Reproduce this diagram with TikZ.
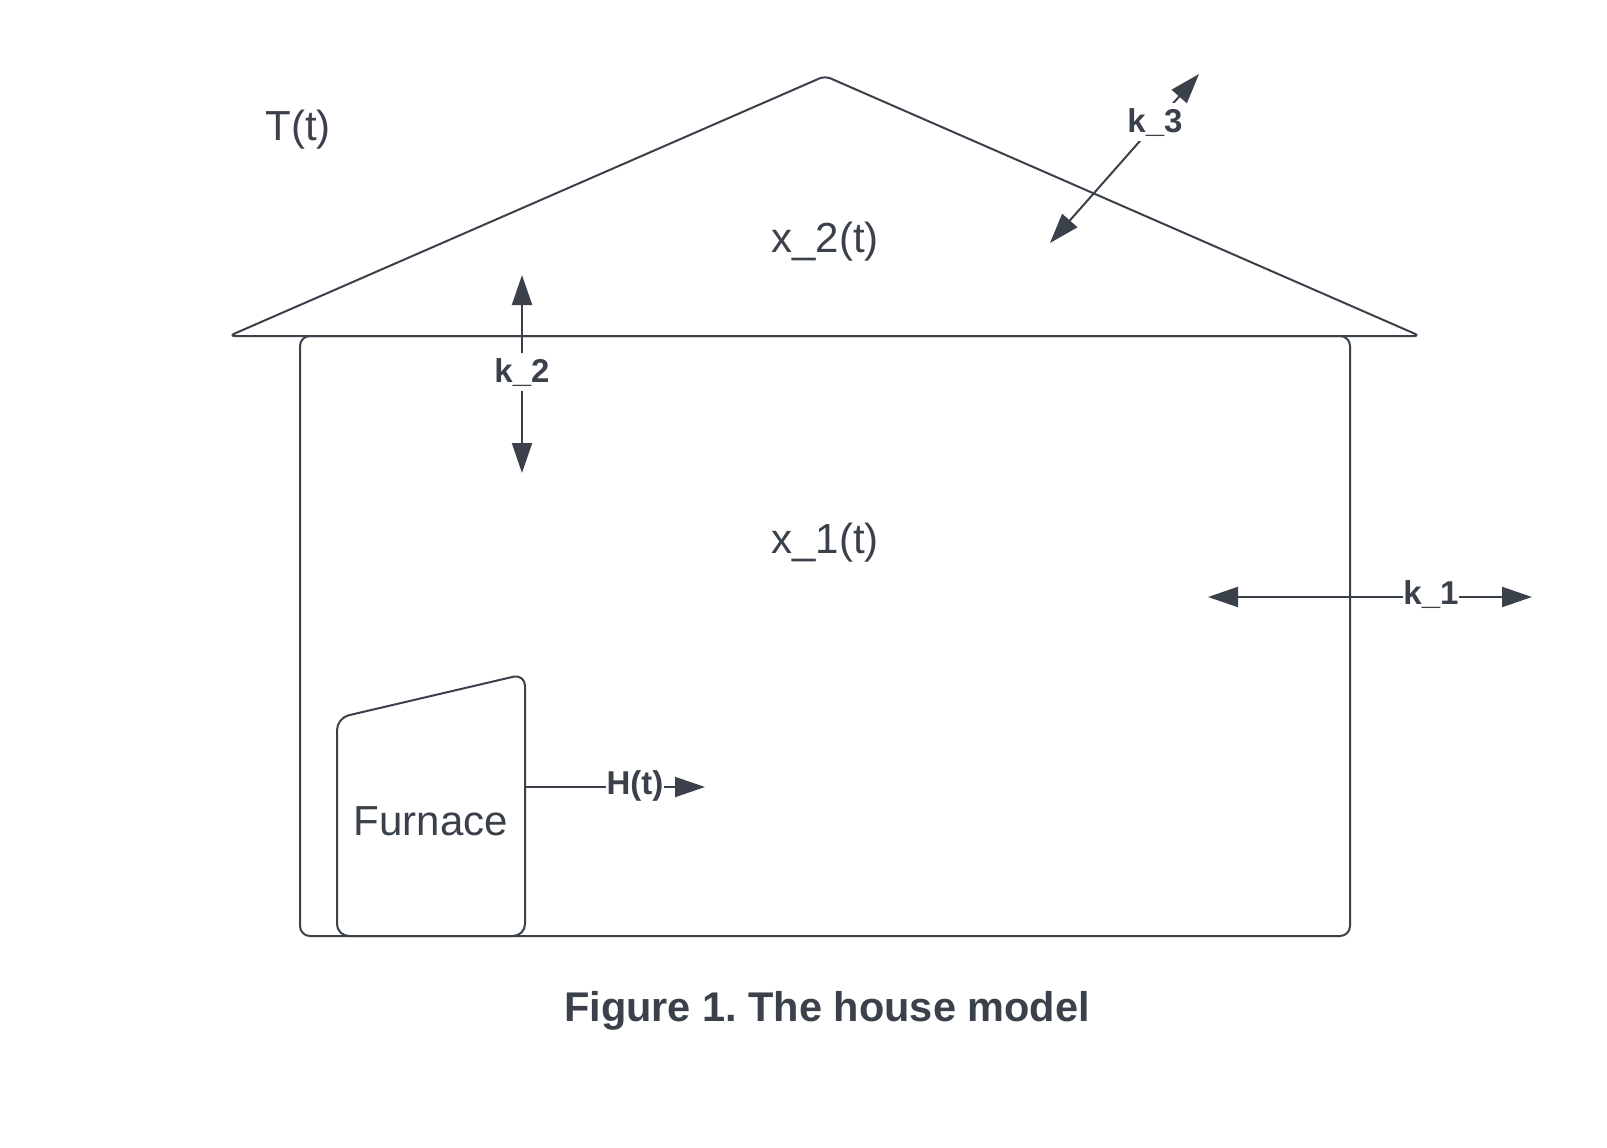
\documentclass[tikz,border=0pt]{standalone}
\usepackage{fontspec}
\setmainfont{Liberation Sans}
\usetikzlibrary{arrows.meta}
\definecolor{ink}{HTML}{3A414A}
\frenchspacing
\begin{document}
\begin{tikzpicture}[x=1pt,y=-1pt,line width=2pt,color=ink,
  txt/.style={font=\fontsize{42}{50}\selectfont,inner sep=0pt,anchor=base},
  klbl/.style={font=\bfseries\fontsize{33}{40}\selectfont,fill=white,inner xsep=0.5pt,inner ysep=5pt,anchor=base},
  captxt/.style={font=\bfseries\fontsize{41.5}{49}\selectfont,inner sep=0pt,anchor=base},
  onetip/.style={-{Triangle[length=30pt,width=20pt]}},
  twotip/.style={{Triangle[length=30pt,width=20pt]}-{Triangle[length=30pt,width=20pt]}}]
\useasboundingbox (0,0) rectangle (1607,1148);
\fill[white] (0,0) rectangle (1607,1148);
% house body
\draw[rounded corners=10pt] (300,336) rectangle (1350,936);
% roof
\draw[rounded corners=6pt,line join=round] (229,336) -- (825,76) -- (1420,336) -- cycle;
% furnace
\draw[rounded corners=12pt] (337,936) -- (337,718) -- (525,674) -- (525,936) -- cycle;
\node[txt] (furnace) at (431,835) {Furnace};
% coordinates
\coordinate (hs) at (525,787);
\coordinate (he) at (705,787);
\coordinate (k1a) at (1208,597);
\coordinate (k1b) at (1532,597);
\coordinate (k2a) at (522,275);
\coordinate (k2b) at (522,473);
\coordinate (k3a) at (1199,74);
\coordinate (k3b) at (1050,243);
% connectors
\draw[onetip] (hs) -- (he);
\draw[twotip] (k1a) -- (k1b);
\draw[twotip] (k2a) -- (k2b);
\draw[twotip] (k3a) -- (k3b);
% connector labels
\node[klbl] (ht) at (635,794) {H(t)};
\node[klbl] (k1) at (1431,604) {k\_1};
\node[klbl] (k2) at (522,382) {k\_2};
\node[klbl] (k3) at (1155,132) {k\_3};
% texts
\node[txt] (T) at (298,140) {T(t)};
\node[txt] (x2) at (825,252) {x\_2(t)};
\node[txt] (x1) at (825,553) {x\_1(t)};
\node[captxt] (caption) at (827,1021) {Figure 1. The house model};
\end{tikzpicture}
\end{document}
